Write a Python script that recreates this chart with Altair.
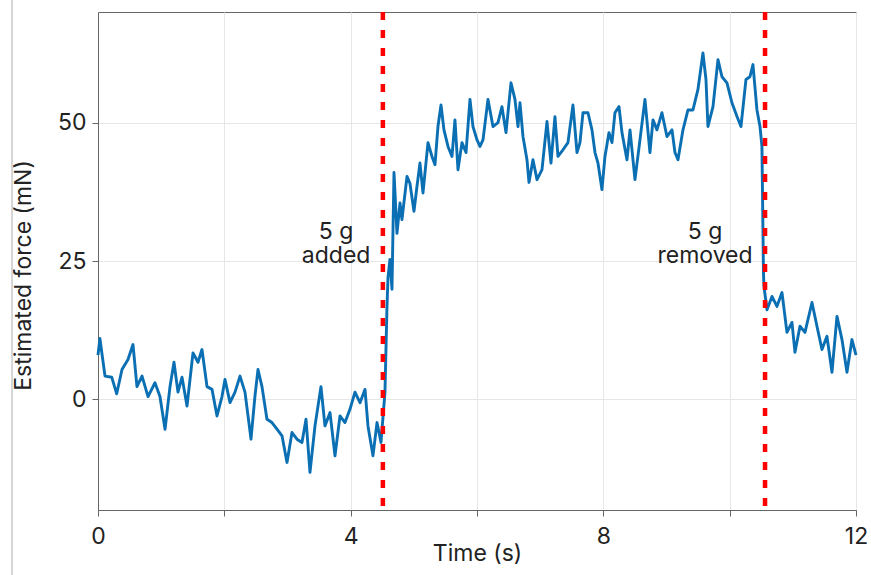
import altair as alt
import pandas as pd

time_s = [0.00, 0.03, 0.111, 0.217, 0.296, 0.380, 0.475, 0.554, 0.617, 0.697, 0.792, 0.902, 0.981,
          1.061, 1.140, 1.203, 1.266, 1.330, 1.409, 1.504, 1.583, 1.646, 1.726, 1.805, 1.884, 1.963,
          2.010, 2.090, 2.169, 2.248, 2.327, 2.422, 2.485, 2.533, 2.596, 2.675, 2.754, 2.834, 2.913,
          2.992, 3.071, 3.150, 3.229, 3.293, 3.356, 3.435, 3.530, 3.593, 3.673, 3.752, 3.831, 3.910,
          3.989, 4.068, 4.148, 4.227, 4.274, 4.353, 4.417, 4.480, 4.543, 4.575, 4.591, 4.622, 4.654,
          4.686, 4.733, 4.781, 4.812, 4.892, 4.939, 5.002, 5.050, 5.097, 5.145, 5.224, 5.287, 5.335,
          5.382, 5.430, 5.477, 5.541, 5.604, 5.651, 5.699, 5.762, 5.826, 5.889, 5.936, 6.000, 6.047,
          6.095, 6.174, 6.253, 6.332, 6.395, 6.459, 6.538, 6.601, 6.649, 6.680, 6.728, 6.791, 6.823,
          6.886, 6.950, 7.029, 7.108, 7.171, 7.234, 7.282, 7.361, 7.440, 7.519, 7.583, 7.630, 7.678,
          7.757, 7.820, 7.868, 7.915, 7.978, 8.026, 8.089, 8.137, 8.184, 8.248, 8.295, 8.374, 8.422,
          8.501, 8.580, 8.659, 8.738, 8.786, 8.849, 8.928, 9.007, 9.087, 9.134, 9.182, 9.261, 9.340,
          9.419, 9.498, 9.577, 9.625, 9.656, 9.736, 9.815, 9.878, 9.957, 10.036, 10.116, 10.179,
          10.258, 10.321, 10.369, 10.432, 10.480, 10.511, 10.527, 10.535, 10.543, 10.591, 10.670,
          10.749, 10.828, 10.907, 10.986, 11.034, 11.113, 11.192, 11.303, 11.382, 11.461, 11.540,
          11.620, 11.699, 11.778, 11.857, 11.936, 12.000]

force_mN = [8.0, 11.0, 4.2, 4.0, 1.0, 5.4, 7.2, 9.9, 2.3, 4.2, 0.5, 3.0, 0.5,
            -5.4, 2.3, 6.7, 1.3, 4.0, -1.2, 8.4, 6.7, 9.0, 2.3, 1.8, -3.0, 0.5,
            3.6, -0.6, 1.3, 4.2, 1.3, -7.2, 0.6, 5.4, 2.3, -3.6, -4.2, -5.4, -6.6,
            -11.4, -6.0, -7.2, -7.8, -3.6, -13.2, -4.8, 2.3, -4.8, -2.4, -10.2, -3.0, -4.2,
            -1.8, 1.3, -0.6, 1.8, -4.8, -10.2, -4.2, -7.8, 1.3, 16.8, 22.0, 25.3, 19.9,
            41.0, 30.0, 35.5, 32.5, 40.3, 39.0, 34.0, 38.5, 42.7, 37.3, 46.4, 43.9, 42.4,
            49.3, 53.2, 48.7, 45.7, 43.9, 50.5, 41.5, 46.4, 44.6, 54.2, 49.3, 46.9, 45.7,
            46.9, 54.2, 49.3, 50.0, 52.9, 48.2, 57.2, 54.2, 49.3, 53.6, 47.5, 43.3, 39.2,
            43.3, 39.7, 41.5, 50.2, 42.7, 51.1, 43.9, 45.1, 46.4, 53.2, 44.6, 46.4, 51.8,
            51.8, 48.7, 44.6, 42.7, 37.9, 43.9, 48.2, 46.4, 51.8, 52.9, 48.2, 43.3, 48.7,
            39.7, 46.9, 54.2, 44.6, 50.5, 48.7, 51.8, 47.5, 48.7, 44.6, 43.3, 48.7, 52.3,
            52.3, 56.0, 62.6, 57.8, 49.3, 52.9, 61.4, 58.3, 57.2, 53.6, 51.1, 49.3,
            57.8, 58.3, 60.5, 52.3, 49.3, 45.7, 30.7, 22.9, 20.4, 16.2, 18.6,
            16.8, 19.3, 12.1, 13.9, 8.5, 13.2, 12.1, 17.5, 13.2, 9.0, 11.4,
            4.9, 15.0, 10.8, 4.9, 10.8, 8.0]

event_t = [4.51, 10.56]
label_t = [3.77, 9.61]
label_f = [30.3, 30.3]
label_text = ["5 g\nadded", "5 g\nremoved"]

FONT = "Inter"
FS = 23

df = pd.DataFrame({"t": time_s, "f": force_mN})
ev = pd.DataFrame({"t": event_t})
lab = pd.DataFrame({"t": label_t, "f": label_f, "txt": label_text})

xs = alt.Scale(domain=[0, 12], nice=False, zero=False)
ys = alt.Scale(domain=[-20, 70], nice=False, zero=False)

x_axis = alt.Axis(
    title="Time (s)", values=[0, 2, 4, 6, 8, 10, 12], format="d",
    labelExpr="datum.value % 4 === 0 ? datum.label : ''",
    titlePadding=-6, labelPadding=9, tickSize=6, labelFlush=False,
)
y_axis = alt.Axis(
    title="Estimated force (mN)", values=[0, 25, 50], format="d",
    titlePadding=22, labelPadding=6, tickSize=6, titleY=263,
)

frame = alt.Chart(pd.DataFrame({"k": [0]})).mark_rule(color="#c8c8c8", strokeWidth=1.5).encode(
    x=alt.value(-86), y=alt.value(-12), y2=alt.value(563),
)

line = alt.Chart(df).mark_line(color="#0b6fb3", strokeWidth=2.9, strokeJoin="round").encode(
    x=alt.X("t:Q", scale=xs, axis=x_axis),
    y=alt.Y("f:Q", scale=ys, axis=y_axis),
)

rules = alt.Chart(ev).mark_rule(color="#ff0000", strokeWidth=4.5, strokeDash=[8, 10]).encode(
    x=alt.X("t:Q", scale=xs),
)

texts = alt.Chart(lab).mark_text(
    font=FONT, fontSize=FS, align="center", baseline="middle", lineBreak="\n",
    color="#222222", lineHeight=24,
).encode(
    x=alt.X("t:Q", scale=xs),
    y=alt.Y("f:Q", scale=ys),
    text="txt:N",
)

chart = alt.layer(line, rules, texts, frame).properties(
    width=758, height=498,
    autosize=alt.AutoSizeParams(type="none"),
    padding={"left": 98, "top": 12, "right": 15, "bottom": 65},
    background="white",
).configure_view(
    stroke="#666666", strokeWidth=1,
).configure_axis(
    labelFont=FONT, titleFont=FONT, labelFontSize=FS, titleFontSize=FS,
    labelColor="#222222", titleColor="#222222", titleFontWeight="normal",
    domainColor="#666666", tickColor="#666666", gridColor="#e6e6e6",
)

chart.save("out.html", embed_options={"renderer": "svg", "actions": False})
